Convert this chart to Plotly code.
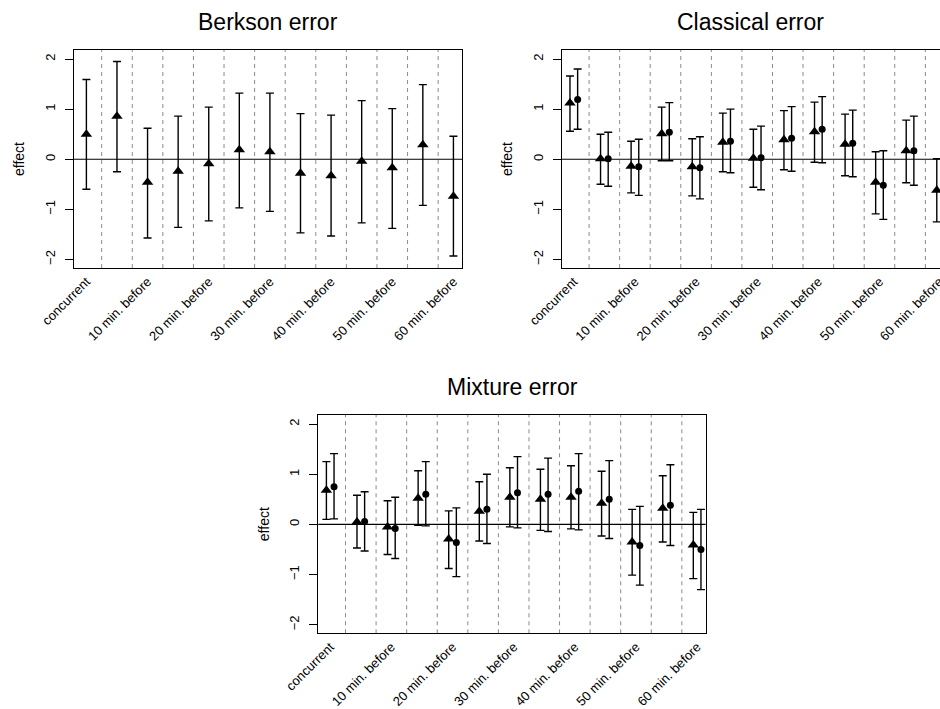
import plotly.graph_objects as go

# Lag categories (13 lags, every other one labelled)
groups = list(range(1, 14))
tick_positions = [1, 3, 5, 7, 9, 11, 13]
tick_labels = ["concurrent", "10 min. before", "20 min. before", "30 min. before",
               "40 min. before", "50 min. before", "60 min. before"]

# Berkson error: estimate with lower / upper interval
berk_est = [0.50, 0.86, -0.46, -0.24, -0.09, 0.19, 0.15, -0.28, -0.33, -0.04, -0.17, 0.29, -0.74]
berk_lo = [-0.60, -0.25, -1.57, -1.36, -1.23, -0.97, -1.04, -1.47, -1.53, -1.27, -1.38, -0.92, -1.93]
berk_hi = [1.59, 1.95, 0.62, 0.86, 1.04, 1.32, 1.32, 0.91, 0.88, 1.17, 1.01, 1.49, 0.46]

# Classical error: two estimators (triangle / circle)
cls_a_est = [1.12, 0.01, -0.14, 0.51, -0.15, 0.34, 0.02, 0.39, 0.55, 0.30, -0.46, 0.17, -0.62]
cls_a_lo = [0.56, -0.50, -0.67, -0.03, -0.73, -0.25, -0.56, -0.21, -0.06, -0.33, -1.09, -0.47, -1.25]
cls_a_hi = [1.66, 0.50, 0.36, 1.04, 0.41, 0.92, 0.60, 0.97, 1.14, 0.90, 0.15, 0.78, 0.01]
cls_b_est = [1.19, 0.01, -0.15, 0.54, -0.17, 0.36, 0.03, 0.42, 0.60, 0.32, -0.52, 0.17, -0.68]
cls_b_lo = [0.60, -0.54, -0.72, -0.03, -0.79, -0.27, -0.61, -0.24, -0.07, -0.35, -1.20, -0.52, -1.38]
cls_b_hi = [1.80, 0.54, 0.40, 1.13, 0.45, 1.00, 0.66, 1.05, 1.25, 0.98, 0.17, 0.86, 0.02]

# Mixture error: two estimators (triangle / circle)
mix_a_est = [0.68, 0.05, -0.05, 0.52, -0.29, 0.26, 0.54, 0.50, 0.54, 0.42, -0.35, 0.32, -0.41]
mix_a_lo = [0.10, -0.47, -0.60, -0.02, -0.88, -0.33, -0.05, -0.12, -0.09, -0.23, -1.01, -0.35, -1.08]
mix_a_hi = [1.25, 0.58, 0.47, 1.07, 0.27, 0.85, 1.13, 1.10, 1.17, 1.06, 0.30, 0.97, 0.24]
mix_b_est = [0.75, 0.06, -0.08, 0.60, -0.36, 0.30, 0.63, 0.60, 0.66, 0.50, -0.42, 0.38, -0.50]
mix_b_lo = [0.11, -0.53, -0.68, -0.03, -1.04, -0.38, -0.07, -0.14, -0.11, -0.28, -1.21, -0.42, -1.30]
mix_b_hi = [1.41, 0.65, 0.54, 1.25, 0.33, 1.00, 1.35, 1.32, 1.41, 1.27, 0.36, 1.19, 0.30]

W, H = 940, 709
FONT = "Liberation Sans, Arial, Helvetica, sans-serif"
PAIR_OFFSET = 0.125
Y_RANGE = [-2.17, 2.18]


def px_x(a, b):
    return [a / W, b / W]


def px_y(top, bottom):
    return [1 - bottom / H, 1 - top / H]


fig = go.Figure()


def add_series(est, lo, hi, offset, symbol, size, xa, ya):
    xs = [g + offset for g in groups]
    fig.add_trace(go.Scatter(
        x=xs, y=est, mode="markers", xaxis=xa, yaxis=ya, showlegend=False,
        marker=dict(symbol=symbol, size=size, color="black", line=dict(width=0)),
        error_y=dict(type="data", symmetric=False,
                     array=[h - e for h, e in zip(hi, est)],
                     arrayminus=[e - l for e, l in zip(est, lo)],
                     color="black", thickness=1.4, width=4),
    ))


add_series(berk_est, berk_lo, berk_hi, 0.0, "triangle-up", 10, "x", "y")
add_series(cls_a_est, cls_a_lo, cls_a_hi, -PAIR_OFFSET, "triangle-up", 10, "x2", "y2")
add_series(cls_b_est, cls_b_lo, cls_b_hi, PAIR_OFFSET, "circle", 7, "x2", "y2")
add_series(mix_a_est, mix_a_lo, mix_a_hi, -PAIR_OFFSET, "triangle-up", 10, "x3", "y3")
add_series(mix_b_est, mix_b_lo, mix_b_hi, PAIR_OFFSET, "circle", 7, "x3", "y3")

panels = [
    # (x axis, y axis, x domain, y domain, x range, title, right frame)
    ("x", "y", px_x(74, 462.3), px_y(50, 268), [0.595, 13.29], "Berkson error", True),
    ("x2", "y2", px_x(561.7, 940), px_y(50, 268), [0.604, 12.98], "Classical error", False),
    ("x3", "y3", px_x(318.3, 705.7), px_y(415, 633.3), [0.61, 13.28], "Mixture error", True),
]

shapes = []
annotations = []
for xa, ya, xdom, ydom, xr, title, right in panels:
    xkey = "xaxis" + xa[1:]
    ykey = "yaxis" + ya[1:]
    # a label whose tick sits just past the panel edge is kept at the edge
    tvals = [min(t, xr[1] - 0.02) for t in tick_positions]
    fig.update_layout({
        xkey: dict(domain=xdom, range=xr, anchor=ya, showgrid=False, zeroline=False,
                   automargin=False, ticklabeloverflow="allow",
                   showline=True, linecolor="black", linewidth=1, mirror=True,
                   ticks="", tickmode="array", tickvals=tvals, ticktext=tick_labels,
                   tickangle=-45, tickfont=dict(family=FONT, size=13, color="black")),
        ykey: dict(domain=ydom, range=Y_RANGE, anchor=xa, showgrid=False, zeroline=False,
                   automargin=False,
                   showline=True, linecolor="black", linewidth=1, mirror=right,
                   ticks="outside", ticklen=8, tickwidth=1, tickcolor="black",
                   tickmode="array", tickvals=[-2, -1, 0, 1, 2],
                   ticktext=["\u22122", "\u22121", "0", "1", "2"], tickangle=-90,
                   ticklabelstandoff=5,
                   tickfont=dict(family=FONT, size=13, color="black"),
                   title=dict(text="effect", standoff=14,
                              font=dict(family=FONT, size=14, color="black"))),
    })
    # dashed separators between lag groups
    for g in groups[:-1]:
        shapes.append(dict(type="line", xref=xa, yref=ya + " domain", x0=g + 0.5, x1=g + 0.5,
                           y0=0, y1=1, line=dict(color="#8a8a8a", width=1, dash="4px,4px"),
                           layer="below"))
    # reference line at zero effect
    shapes.append(dict(type="line", xref=xa + " domain", yref=ya, x0=0, x1=1, y0=0, y1=0,
                       line=dict(color="black", width=1.2)))
    ytop_px = (1 - ydom[1]) * H
    annotations.append(dict(text=title, xref="paper", yref="paper",
                            x=(xdom[0] + xdom[1]) / 2, y=1 - (ytop_px - 28) / H,
                            xanchor="center", yanchor="middle", showarrow=False,
                            font=dict(family=FONT, size=23, color="black")))

fig.update_layout(width=W, height=H, margin=dict(l=0, r=0, t=0, b=0, autoexpand=False),
                  paper_bgcolor="white", plot_bgcolor="white",
                  shapes=shapes, annotations=annotations, showlegend=False)

fig.write_html("out.html")
